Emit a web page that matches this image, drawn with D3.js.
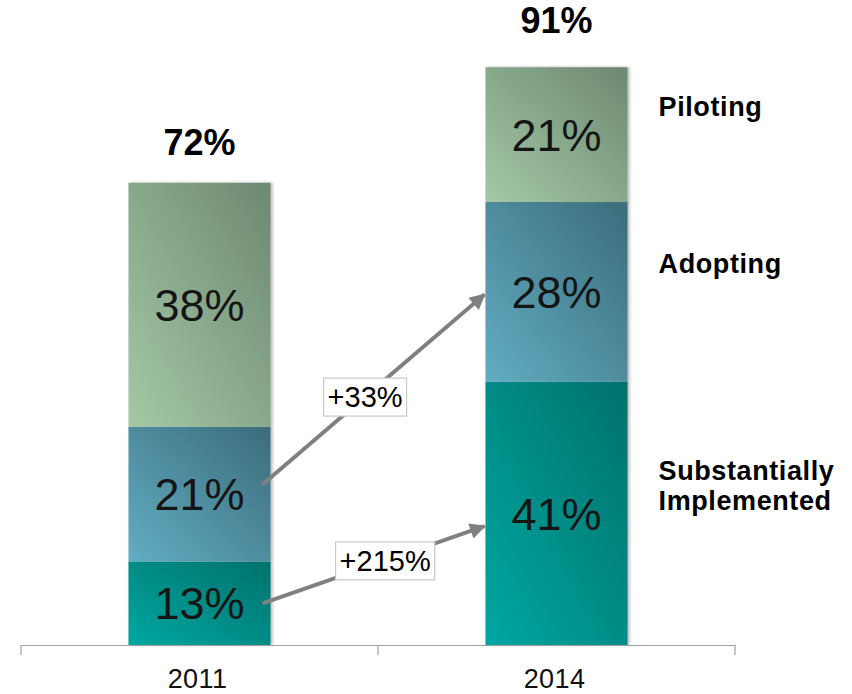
<!DOCTYPE html>
<html>
<head>
<meta charset="utf-8">
<script src="https://cdn.jsdelivr.net/npm/d3@7"></script>
<style>
  html, body { margin: 0; padding: 0; background: #fff; }
  svg { display: block; font-family: Arial, "Liberation Sans", sans-serif; }
</style>
</head>
<body>
<svg id="chart" width="852" height="694"></svg>
<script>
// Stacked shares by year, bottom to top
const years = ["2011", "2014"];
const stages = ["Substantially Implemented", "Adopting", "Piloting"];
const substantially = [13, 41];
const adopting = [21, 28];
const piloting = [38, 21];
const totals = [72, 91];

// Stage labels on the right, one entry per line
const stageLines = [["Substantially", "Implemented"], ["Adopting"], ["Piloting"]];

// Growth annotations: from the 2011 bar to the 2014 bar (value anchors) and their text
const growthLabels = ["+33%", "+215%"];
const growthFrom = [25, 6.5];
const growthTo = [54.6, 18.5];
const growthLabelPos = [0.46, 0.55];

// Gradient stops per stage: [light bottom-left, dark top-right]
const stageColors = [
  ["#00a7a1", "#00716c"],
  ["#61adc2", "#3c6c7b"],
  ["#a4c9a4", "#6d8872"]
];

const svg = d3.select("#chart");
const defs = svg.append("defs");

stageColors.forEach((c, i) => {
  const g = defs.append("linearGradient")
    .attr("id", "grad" + i)
    .attr("x1", 0).attr("y1", 1).attr("x2", 1).attr("y2", 0);
  g.append("stop").attr("offset", "0%").attr("stop-color", c[0]);
  g.append("stop").attr("offset", "100%").attr("stop-color", c[1]);
});

const shadow = defs.append("filter").attr("id", "barShadow")
  .attr("x", "-10%").attr("y", "-5%").attr("width", "130%").attr("height", "110%");
shadow.append("feDropShadow")
  .attr("dx", 2).attr("dy", 0).attr("stdDeviation", 1.5)
  .attr("flood-color", "#000").attr("flood-opacity", 0.28);

const arrowDef = defs.append("marker")
  .attr("id", "arrowHead")
  .attr("viewBox", "0 0 10 10")
  .attr("refX", 9).attr("refY", 5)
  .attr("markerWidth", 4.4).attr("markerHeight", 4)
  .attr("markerUnits", "strokeWidth")
  .attr("orient", "auto");
arrowDef.append("path").attr("d", "M0,0 L10,5 L0,10 Z").attr("fill", "#808080");

const x = d3.scaleBand()
  .domain(years)
  .range([21, 735])
  .paddingInner(0.602)
  .paddingOuter(0.301);

const y = d3.scaleLinear().domain([0, 100]).range([645, 3]);

// Build stacked data
const rows = years.map((yr, i) => ({
  year: yr,
  "Substantially Implemented": substantially[i],
  "Adopting": adopting[i],
  "Piloting": piloting[i]
}));
const series = d3.stack().keys(stages)(rows);

const barsG = svg.append("g").attr("filter", "url(#barShadow)");
series.forEach((s, si) => {
  barsG.selectAll(null)
    .data(s)
    .join("rect")
    .attr("x", d => x(d.data.year))
    .attr("width", x.bandwidth())
    .attr("y", d => y(d[1]))
    .attr("height", d => y(d[0]) - y(d[1]))
    .attr("fill", `url(#grad${si})`);
});

// Segment value labels
const segFont = 45;
series.forEach(s => {
  svg.selectAll(null)
    .data(s)
    .join("text")
    .attr("x", d => x(d.data.year) + x.bandwidth() / 2)
    .attr("y", d => (y(d[0]) + y(d[1])) / 2 + segFont * 0.358)
    .attr("text-anchor", "middle")
    .attr("font-size", segFont)
    .attr("fill", "#151515")
    .text(d => (d[1] - d[0]) + "%");
});

// Totals above the bars
svg.selectAll(null)
  .data(years)
  .join("text")
  .attr("x", d => x(d) + x.bandwidth() / 2)
  .attr("y", (d, i) => y(totals[i]) - 28)
  .attr("text-anchor", "middle")
  .attr("font-size", 36)
  .attr("font-weight", "bold")
  .attr("fill", "#000")
  .text((d, i) => totals[i] + "%");

// Axis: baseline with ticks at band boundaries, year labels below
const axisG = svg.append("g");
const [r0, r1] = x.range();
axisG.append("path")
  .attr("d", `M${r0},655V645.5H${r1}V655`)
  .attr("fill", "none")
  .attr("stroke", "#a0a0a0")
  .attr("stroke-width", 1.2);
axisG.append("line")
  .attr("x1", r0 + x.step()).attr("x2", r0 + x.step())
  .attr("y1", 645.5).attr("y2", 655)
  .attr("stroke", "#a0a0a0").attr("stroke-width", 1.2);
axisG.selectAll(null)
  .data(years)
  .join("text")
  .attr("x", d => x(d) + x.bandwidth() / 2 - 2)
  .attr("y", 688)
  .attr("text-anchor", "middle")
  .attr("font-size", 27)
  .attr("letter-spacing", 0.4)
  .attr("fill", "#111")
  .text(d => d);

// Stage names to the right of the 2014 bar
const last = years.length - 1;
const labelX = x(years[last]) + x.bandwidth() + 31;
series.forEach((s, si) => {
  const d = s[last];
  const mid = (y(d[0]) + y(d[1])) / 2 - 28;
  const lines = stageLines[si];
  const fs = 27, lh = 30;
  const t = svg.append("text")
    .attr("font-size", fs)
    .attr("font-weight", "bold")
    .attr("letter-spacing", 0.6)
    .attr("fill", "#000");
  lines.forEach((ln, li) => {
    t.append("tspan")
      .attr("x", labelX)
      .attr("y", mid - (lines.length - 1) * lh / 2 + li * lh + 26 * 0.358)
      .text(ln);
  });
});

// Growth arrows with boxed labels
const x0 = x(years[0]) + x.bandwidth() - 8;
const x1 = x(years[last]);
growthLabels.forEach((lab, i) => {
  const ya = y(growthFrom[i]), yb = y(growthTo[i]);
  svg.append("line")
    .attr("x1", x0).attr("y1", ya)
    .attr("x2", x1 - 1).attr("y2", yb)
    .attr("stroke", "#808080")
    .attr("stroke-width", 4)
    .attr("marker-end", "url(#arrowHead)");

  const t = growthLabelPos[i];
  const cx = x0 + (x1 - x0) * t;
  const cy = ya + (yb - ya) * t;
  const g = svg.append("g");
  const txt = g.append("text")
    .attr("x", cx)
    .attr("y", cy + 29 * 0.358)
    .attr("text-anchor", "middle")
    .attr("font-size", 29)
    .attr("fill", "#000")
    .text(lab);
  const bb = txt.node().getBBox();
  g.insert("rect", "text")
    .attr("x", bb.x - 4)
    .attr("y", cy - 19)
    .attr("width", bb.width + 8)
    .attr("height", 38)
    .attr("fill", "#fff")
    .attr("stroke", "#c8c8c8")
    .attr("stroke-width", 1.2);
});
</script>
</body>
</html>
